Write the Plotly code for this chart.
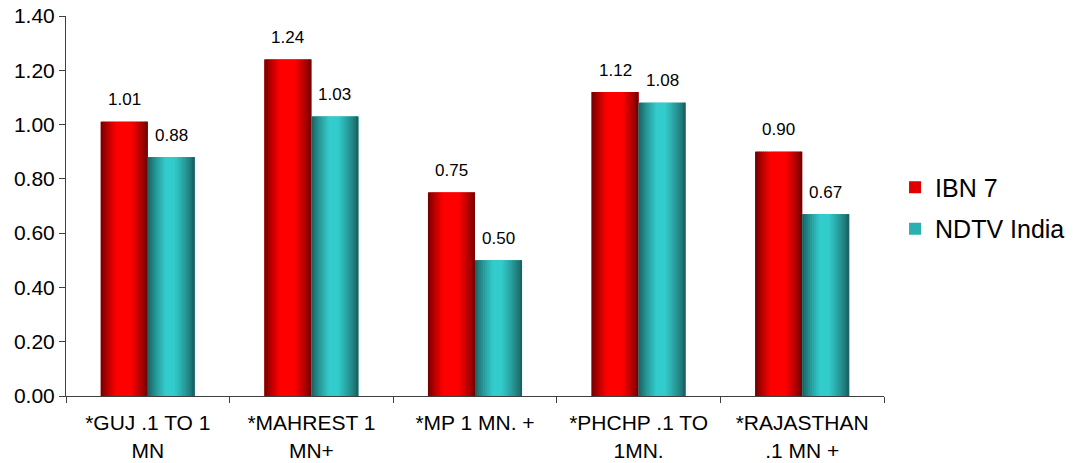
import plotly.graph_objects as go

categories = ["*GUJ .1 TO 1<br>MN", "*MAHREST 1<br>MN+", "*MP 1 MN. +",
              "*PHCHP .1 TO<br>1MN.", "*RAJASTHAN<br>.1 MN +"]
ibn7 = [1.01, 1.24, 0.75, 1.12, 0.90]
ndtv = [0.88, 1.03, 0.50, 1.08, 0.67]
y_ticks = [0.0, 0.2, 0.4, 0.6, 0.8, 1.0, 1.2, 1.4]

FONT = "Liberation Sans, Arial, sans-serif"
BAR_W = 0.2875      # width of a single bar in category units
N_STRIPS = 24
CAT_PX = 163.6
AXIS_COL = "#404040"


def shade(t, dark, bright, rise, fall):
    # cylinder-like shading: dark edges, bright centre
    if t < rise:
        s = t / rise
    elif t > fall:
        s = (1 - t) / (1 - fall)
    else:
        s = 1.0
    s = max(0.0, min(1.0, s))
    s = s ** 0.8
    c = [round(d + (b - d) * s) for d, b in zip(dark, bright)]
    return f"rgb({c[0]},{c[1]},{c[2]})"


series = [
    dict(name="IBN 7", values=ibn7, offset=-BAR_W, dark=(105, 0, 0),
         bright=(255, 0, 0), rise=0.33, fall=0.64, legend="#e00000"),
    dict(name="NDTV India", values=ndtv, offset=0.0, dark=(25, 90, 90),
         bright=(51, 204, 204), rise=0.38, fall=0.56, legend="#2bb0b0"),
]

fig = go.Figure()
for s in series:
    fig.add_trace(go.Bar(
        x=categories, y=s["values"], name=s["name"], width=BAR_W,
        offset=s["offset"], marker=dict(color=s["legend"], line=dict(width=0)),
        legendgroup=s["name"], hoverinfo="skip"))
    sw = BAR_W / N_STRIPS
    for k in range(N_STRIPS):
        t = (k + 0.5) / N_STRIPS
        w = sw * 1.6 if k < N_STRIPS - 1 else sw
        fig.add_trace(go.Bar(
            x=categories, y=s["values"], width=w, offset=s["offset"] + k * sw,
            marker=dict(color=shade(t, s["dark"], s["bright"], s["rise"], s["fall"]),
                        line=dict(width=0)),
            showlegend=False, legendgroup=s["name"], hoverinfo="skip"))

for s in series:
    shift = (s["offset"] + BAR_W / 2) * CAT_PX
    for c, v in zip(categories, s["values"]):
        fig.add_annotation(x=c, y=v, text=f"{v:.2f}", showarrow=False,
                           xshift=shift, yshift=22, yanchor="middle",
                           font=dict(family=FONT, size=17, color="#000000"))

fig.update_layout(
    width=1075, height=463,
    margin=dict(l=66, r=191, t=16, b=67, autoexpand=False),
    barmode="overlay",
    paper_bgcolor="white", plot_bgcolor="white",
    font=dict(family=FONT, size=21, color="#000000"),
    legend=dict(x=1.0135, y=0.495, xanchor="left", yanchor="middle",
                font=dict(family=FONT, size=25, color="#000000"),
                itemsizing="constant", tracegroupgap=6, itemwidth=30),
)
fig.update_xaxes(type="category", range=[-0.5, 4.5], showline=True,
                 linecolor=AXIS_COL, linewidth=1, ticks="outside",
                 tickson="boundaries", ticklen=6, tickcolor=AXIS_COL,
                 showgrid=False, tickfont=dict(family=FONT, size=21),
                 ticklabelstandoff=8, automargin=False)
fig.update_yaxes(range=[0, 1.4], tickvals=y_ticks,
                 ticktext=[f"{v:.2f}" for v in y_ticks], showline=True,
                 linecolor=AXIS_COL, linewidth=1, ticks="outside", ticklen=6,
                 tickcolor=AXIS_COL, showgrid=False, zeroline=False,
                 tickfont=dict(family=FONT, size=21), automargin=False)

fig.write_html("out.html")
